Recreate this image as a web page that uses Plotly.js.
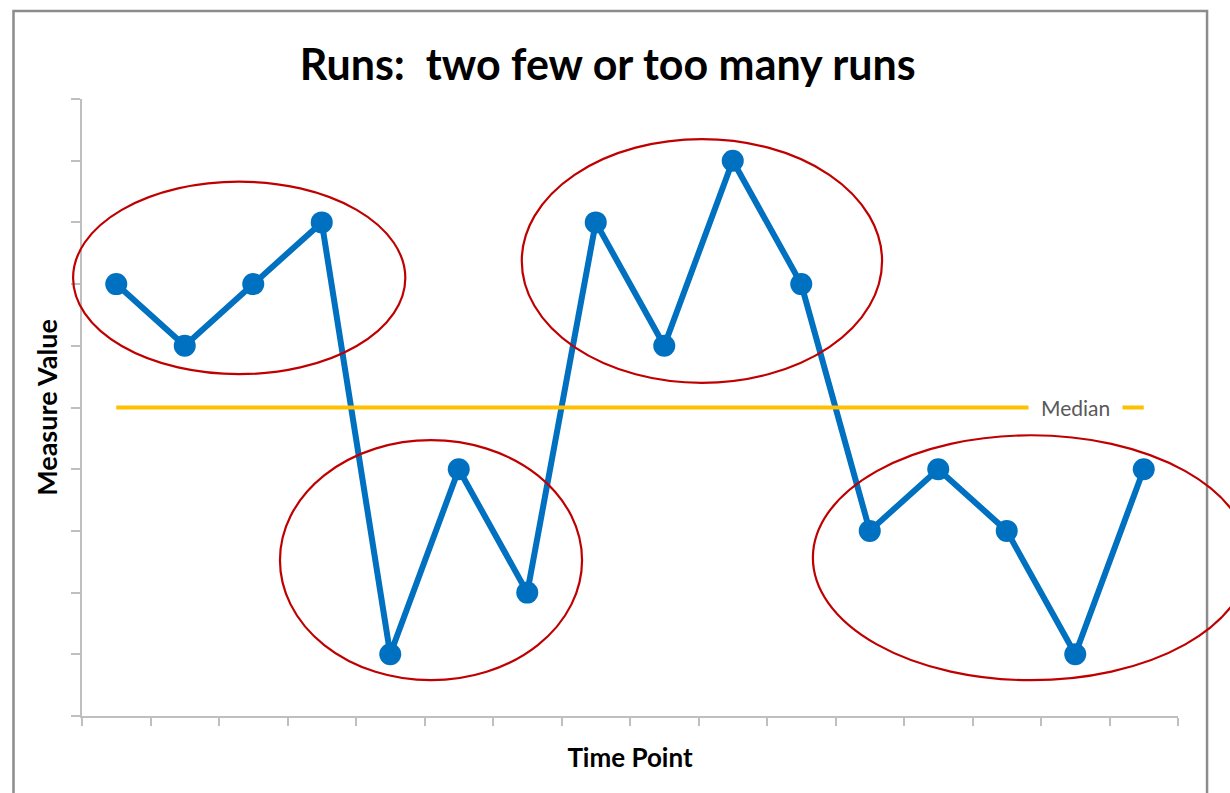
<!DOCTYPE html>
<html>
<head>
<meta charset="utf-8">
<script src="https://cdn.plot.ly/plotly-3.0.1.min.js"></script>
<style>
  html, body { margin: 0; padding: 0; background: #ffffff; }
  #chart { width: 1230px; height: 793px; }
</style>
</head>
<body>
<div id="chart"></div>
<script>
// ---- data ----
const timePoints = ['1','2','3','4','5','6','7','8','9','10','11','12','13','14','15','16'];
const measureValues = [7, 6, 7, 8, 1, 4, 2, 8, 6, 9, 7, 3, 4, 3, 1, 4];
const medianValue = 5;
const yTickValues = [0, 1, 2, 3, 4, 5, 6, 7, 8, 9, 10];
const medianLabel = 'Median';
const medianLabelIndex = 14; // label sits over the 15th time point

// run highlight ellipses, in data units: [xStart, xEnd, yLow, yHigh]
const runEllipses = [
  [-0.63, 4.22, 5.54, 8.66],
  [2.39, 6.80, 0.58, 4.47],
  [5.92, 11.18, 5.40, 9.35],
  [10.17, 16.54, 0.58, 4.55]
];

const xRange = [-0.5, timePoints.length - 0.5];
const yRange = [0, 10];
const fx = d => (d - xRange[0]) / (xRange[1] - xRange[0]);
const fy = v => (v - yRange[0]) / (yRange[1] - yRange[0]);

const traces = [
  {
    x: timePoints,
    y: measureValues,
    type: 'scatter',
    mode: 'lines+markers',
    line: { color: '#0070C0', width: 6 },
    marker: { color: '#0070C0', size: 22 },
    cliponaxis: false,
    showlegend: false
  },
  {
    x: [timePoints[0], timePoints[timePoints.length - 1]],
    y: [medianValue, medianValue],
    type: 'scatter',
    mode: 'lines',
    line: { color: '#FFC000', width: 4 },
    hoverinfo: 'skip',
    showlegend: false
  }
];

const shapes = runEllipses.map(e => ({
  type: 'circle',
  xref: 'x domain', yref: 'y domain',
  x0: fx(e[0]), x1: fx(e[1]), y0: fy(e[2]), y1: fy(e[3]),
  line: { color: '#C00000', width: 2.2 },
  fillcolor: 'rgba(0,0,0,0)',
  layer: 'above'
}));

// chart frame
shapes.push({
  type: 'rect', xref: 'paper', yref: 'paper',
  x0: -0.0625, x1: 1.0265, y0: -0.3, y1: 1.1426,
  line: { color: '#8C8C8C', width: 2.5 },
  fillcolor: 'rgba(0,0,0,0)',
  layer: 'below'
});

const layout = {
  width: 1230,
  height: 793,
  margin: { l: 82, r: 52, t: 99, b: 77 },
  paper_bgcolor: '#ffffff',
  plot_bgcolor: '#ffffff',
  showlegend: false,
  title: {
    text: '<b>Runs:  two few or too many runs</b>',
    font: { family: 'Lato, "Open Sans", sans-serif', size: 43, color: '#000000' },
    xref: 'container', yref: 'container',
    x: 0.494, y: 0.918, xanchor: 'center', yanchor: 'middle'
  },
  xaxis: {
    type: 'category',
    categoryorder: 'array',
    categoryarray: timePoints,
    range: xRange,
    showgrid: false,
    zeroline: false,
    showline: true,
    linecolor: '#BFBFBF',
    linewidth: 2,
    ticks: 'outside',
    tickson: 'boundaries',
    ticklen: 8,
    tickwidth: 2,
    tickcolor: '#BFBFBF',
    showticklabels: false,
    automargin: false,
    title: {
      text: '<b>Time Point</b>',
      font: { family: 'Lato, "Open Sans", sans-serif', size: 26, color: '#000000' },
      standoff: 32
    }
  },
  yaxis: {
    range: yRange,
    tickmode: 'array',
    tickvals: yTickValues,
    showgrid: false,
    zeroline: false,
    showline: true,
    linecolor: '#BFBFBF',
    linewidth: 2,
    ticks: 'outside',
    ticklen: 9,
    tickwidth: 2,
    tickcolor: '#BFBFBF',
    showticklabels: false,
    automargin: false,
    title: {
      text: '<b>Measure Value</b>',
      font: { family: 'Lato, "Open Sans", sans-serif', size: 27, color: '#000000' },
      standoff: 6
    }
  },
  shapes: shapes,
  annotations: [
    {
      x: fx(medianLabelIndex),
      y: medianValue,
      xref: 'x domain', yref: 'y',
      text: medianLabel,
      showarrow: false,
      font: { family: 'Lato, "Open Sans", sans-serif', size: 21, color: '#595959' },
      bgcolor: '#ffffff',
      borderpad: 12,
      xanchor: 'center', yanchor: 'middle'
    }
  ]
};

Plotly.newPlot('chart', traces, layout, { staticPlot: true, displayModeBar: false });
</script>
</body>
</html>
